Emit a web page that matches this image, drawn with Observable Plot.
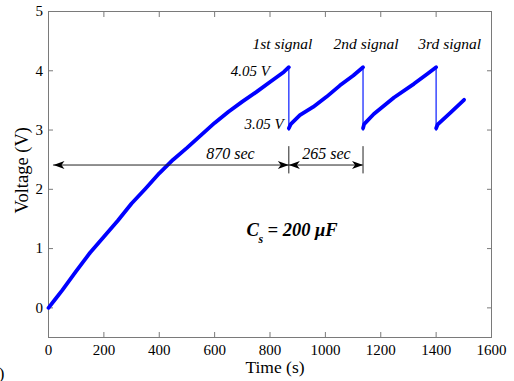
<!DOCTYPE html>
<html>
<head>
<meta charset="utf-8">
<script src="https://cdn.jsdelivr.net/npm/d3@7"></script>
<script src="https://cdn.jsdelivr.net/npm/@observablehq/plot@0.6"></script>
<style>
  html, body { margin: 0; padding: 0; background: #fff; }
  #chart svg { display: block; }
</style>
</head>
<body>
<div id="chart"></div>
<script>
// ---- data ----
const seg1Time = [0, 25, 50, 100, 150, 200, 250, 300, 350, 400, 450, 500, 550, 600, 650, 700, 750, 800, 850, 868];
const seg1Volt = [0, 0.15, 0.3, 0.62, 0.93, 1.2, 1.47, 1.76, 2.01, 2.27, 2.5, 2.7, 2.91, 3.12, 3.31, 3.48, 3.64, 3.81, 3.98, 4.06];
const seg2Time = [868, 875, 908, 956, 1004, 1052, 1101, 1136];
const seg2Volt = [3.03, 3.1, 3.25, 3.39, 3.56, 3.75, 3.92, 4.06];
const seg3Time = [1136, 1140, 1175, 1248, 1320, 1369, 1400];
const seg3Volt = [3.03, 3.1, 3.27, 3.55, 3.78, 3.95, 4.06];
const seg4Time = [1400, 1405, 1453, 1501];
const seg4Volt = [3.03, 3.09, 3.3, 3.51];

const dropTimes = [868, 1136, 1400];
const dropHigh = 4.06;
const dropLow = 2.98;

const xTicks = [0, 200, 400, 600, 800, 1000, 1200, 1400, 1600];
const yTicks = [0, 1, 2, 3, 4, 5];

const signalLabels = ["1st signal", "2nd signal", "3rd signal"];
const signalLabelTime = [845, 1147, 1449];

const spanLabels = ["870 sec", "265 sec"];
const spanStart = [18, 868];
const spanEnd = [868, 1136];
const spanLabelTime = [657, 1004];
const spanLevel = 2.41;

// ---- build table ----
const curve = [];
[[seg1Time, seg1Volt], [seg2Time, seg2Volt], [seg3Time, seg3Volt], [seg4Time, seg4Volt]].forEach(([ts, vs], i) => {
  ts.forEach((t, j) => curve.push({t, v: vs[j], seg: i}));
});
const spans = spanLabels.map((label, i) => ({label, x1: spanStart[i], x2: spanEnd[i], lx: spanLabelTime[i]}));

// arrow-head symbols (tip at origin)
const headRight = {draw(ctx) { ctx.moveTo(0, 0); ctx.lineTo(-11, -4); ctx.lineTo(-8, 0); ctx.lineTo(-11, 4); ctx.closePath(); }};
const headLeft = {draw(ctx) { ctx.moveTo(0, 0); ctx.lineTo(11, -4); ctx.lineTo(8, 0); ctx.lineTo(11, 4); ctx.closePath(); }};

const serif = "'Liberation Serif', 'Times New Roman', serif";

const chart = Plot.plot({
  width: 514,
  height: 381,
  marginLeft: 48,
  marginRight: 23,
  marginTop: 11,
  marginBottom: 44,
  style: {fontFamily: serif, fontSize: "15px", background: "#fff", color: "#000"},
  x: {domain: [0, 1600]},
  y: {domain: [-0.5, 5]},
  marks: [
    Plot.frame({stroke: "#7a7a7a"}),
    Plot.axisX({anchor: "bottom", ticks: xTicks, tickSize: -5, tickPadding: 11.5, tickFormat: d3.format("d"), label: null, stroke: "#7a7a7a", fill: "#000", fontSize: 15, fontFamily: serif}),
    Plot.axisX({anchor: "top", ticks: xTicks, tickSize: -5, tickFormat: () => "", label: null, stroke: "#7a7a7a"}),
    Plot.axisY({anchor: "left", ticks: yTicks, tickSize: -5, tickPadding: 10.5, tickFormat: d3.format("d"), label: null, stroke: "#7a7a7a", fill: "#000", fontSize: 15, fontFamily: serif}),
    Plot.axisY({anchor: "right", ticks: yTicks, tickSize: -5, tickFormat: () => "", label: null, stroke: "#7a7a7a"}),
    Plot.text(["Time (s)"], {frameAnchor: "bottom", textAnchor: "middle", lineAnchor: "bottom", dx: 5, dy: 35, fontSize: 17.5, fontFamily: serif}),
    Plot.text(["Voltage (V)"], {frameAnchor: "left", y: [2.32], textAnchor: "middle", lineAnchor: "middle", rotate: -90, dx: -26, fontSize: 18.5, fontFamily: serif}),
    Plot.text([")"], {frameAnchor: "bottom-left", textAnchor: "end", lineAnchor: "bottom", dx: -44, dy: 41, fontSize: 17, fontFamily: serif}),
    // capacitor voltage trace
    Plot.ruleX(dropTimes, {x: d => d, y1: dropLow, y2: dropHigh, stroke: "#2b3bff", strokeWidth: 1.4}),
    Plot.line(curve, {x: "t", y: "v", z: "seg", stroke: "#0000ff", strokeWidth: 3.8, strokeLinejoin: "round", strokeLinecap: "round"}),
    // interval arrows
    Plot.ruleY(spans, {y: spanLevel, x1: "x1", x2: "x2", stroke: "#222", strokeWidth: 1}),
    Plot.ruleX([spanEnd[0], spanEnd[1]], {x: d => d, y1: 2.26, y2: 2.72, stroke: "#222", strokeWidth: 1}),
    Plot.dot(spans, {x: "x2", y: spanLevel, symbol: headRight, fill: "#000", stroke: null, r: 4}),
    Plot.dot(spans, {x: "x1", y: spanLevel, symbol: headLeft, fill: "#000", stroke: null, r: 4}),
    Plot.text(spans, {x: "lx", y: spanLevel, text: "label", lineAnchor: "bottom", dy: -6.5, fontStyle: "italic", fontSize: 16, fontFamily: serif}),
    // signal labels
    Plot.text(signalLabels, {x: (d, i) => signalLabelTime[i], y: 4.36, text: d => d, lineAnchor: "bottom", fontStyle: "italic", fontSize: 15.5, fontFamily: serif}),
    Plot.text(["4.05 V"], {x: 800, y: 3.92, textAnchor: "end", lineAnchor: "bottom", fontStyle: "italic", fontSize: 15, fontFamily: serif}),
    Plot.text(["3.05 V"], {x: 849, y: 3.01, textAnchor: "end", lineAnchor: "bottom", fontStyle: "italic", fontSize: 15, fontFamily: serif}),
    // capacitance note
    Plot.text(["C"], {x: 715, y: 1.22, textAnchor: "start", lineAnchor: "bottom", fontStyle: "italic", fontWeight: "bold", fontSize: 18.5, fontFamily: serif}),
    Plot.text(["s"], {x: 715, y: 1.22, textAnchor: "start", lineAnchor: "bottom", dx: 12, dy: 7, fontStyle: "italic", fontWeight: "bold", fontSize: 12, fontFamily: serif}),
    Plot.text(["= 200 μF"], {x: 715, y: 1.22, textAnchor: "start", lineAnchor: "bottom", dx: 21, fontStyle: "italic", fontWeight: "bold", fontSize: 18.5, fontFamily: serif})
  ]
});
document.getElementById("chart").appendChild(chart);
</script>
</body>
</html>
